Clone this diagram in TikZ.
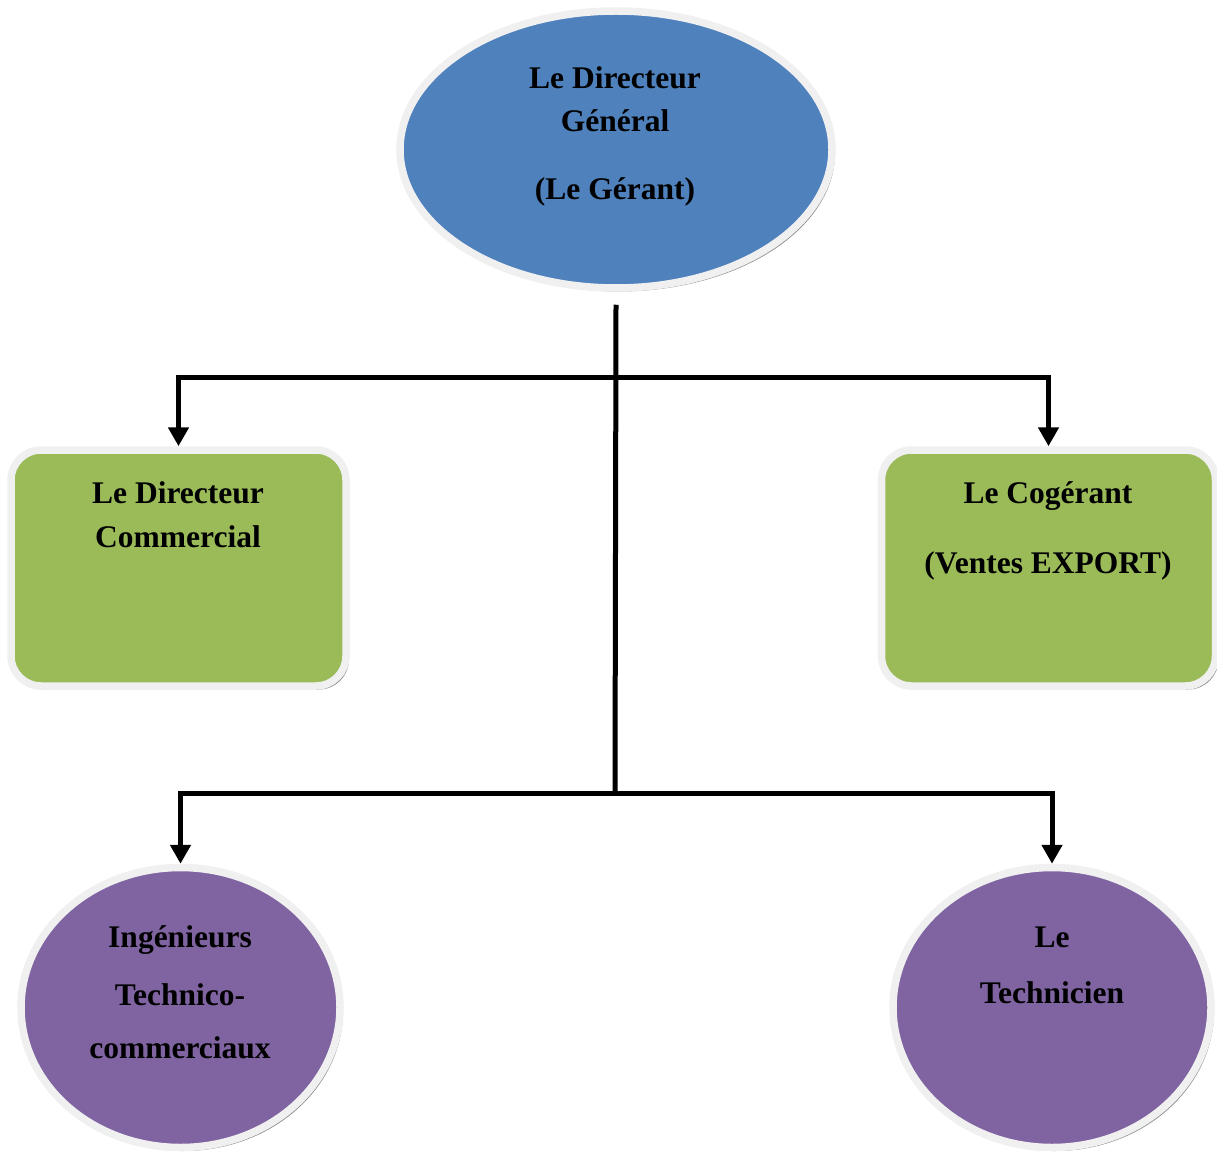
\documentclass[tikz,border=0pt]{standalone}
\usepackage{fontspec}
\setmainfont{Liberation Serif}
\usetikzlibrary{shapes.geometric,shadows,arrows.meta}
\definecolor{dgblue}{HTML}{4F81BD}
\definecolor{dcgreen}{HTML}{9BBB59}
\definecolor{tpurple}{HTML}{8064A2}
\definecolor{ringgrey}{HTML}{F0F0F0}
\definecolor{shadowgrey}{HTML}{8C8C8C}
\begin{document}
\begin{tikzpicture}[x=1pt,y=-1pt,
  shp/.style={draw=ringgrey,line width=7.5pt,inner sep=0pt,
    drop shadow={shadow xshift=3pt,shadow yshift=-3.5pt,fill=shadowgrey,opacity=1}},
  ovalbox/.style={shp,ellipse},
  roundbox/.style={shp,rectangle,rounded corners=30pt},
  lbl/.style={anchor=base,inner sep=0pt,font=\fontsize{31.5}{38}\selectfont\bfseries},
  line/.style={line width=5pt},
  arr/.style={line width=5pt,-{Triangle[width=20pt,length=19pt]}}]
\useasboundingbox (0,0) rectangle (1217,1155);
% shapes
\node[ovalbox,fill=dgblue,minimum width=432pt,minimum height=277pt] (dg) at (616,149.5) {};
\node[roundbox,fill=dcgreen,minimum width=335pt,minimum height=236pt] (dc) at (178.5,568) {};
\node[roundbox,fill=dcgreen,minimum width=334pt,minimum height=236pt] (cg) at (1048.5,568) {};
\node[ovalbox,fill=tpurple,minimum width=319pt,minimum height=280pt] (ing) at (180.5,1007.5) {};
\node[ovalbox,fill=tpurple,minimum width=318pt,minimum height=280pt] (tech) at (1052,1007.5) {};
% texts
\node[lbl] (dg1) at (615,89) {Le Directeur};
\node[lbl] (dg2) at (615,132) {Général};
\node[lbl] (dg3) at (615,200) {(Le Gérant)};
\node[lbl] (dc1) at (178,503) {Le Directeur};
\node[lbl] (dc2) at (178,547) {Commercial};
\node[lbl] (cg1) at (1048,503) {Le Cogérant};
\node[lbl] (cg2) at (1048,573) {(Ventes EXPORT)};
\node[lbl] (ing1) at (180,947) {Ingénieurs};
\node[lbl] (ing2) at (180,1005) {Technico-};
\node[lbl] (ing3) at (180,1058) {commerciaux};
\node[lbl] (tech1) at (1052,947) {Le};
\node[lbl] (tech2) at (1052,1003) {Technicien};
% connectors
\coordinate (j1) at (615,377);
\coordinate (j2) at (615,793);
\draw[line] ([yshift=-13pt]dg.south) -- (j2);
\draw[arr] (j1) -| (dc.north);
\draw[arr] (j1) -| (cg.north);
\draw[arr] (j2) -| (ing.north);
\draw[arr] (j2) -| (tech.north);
\end{tikzpicture}
\end{document}
